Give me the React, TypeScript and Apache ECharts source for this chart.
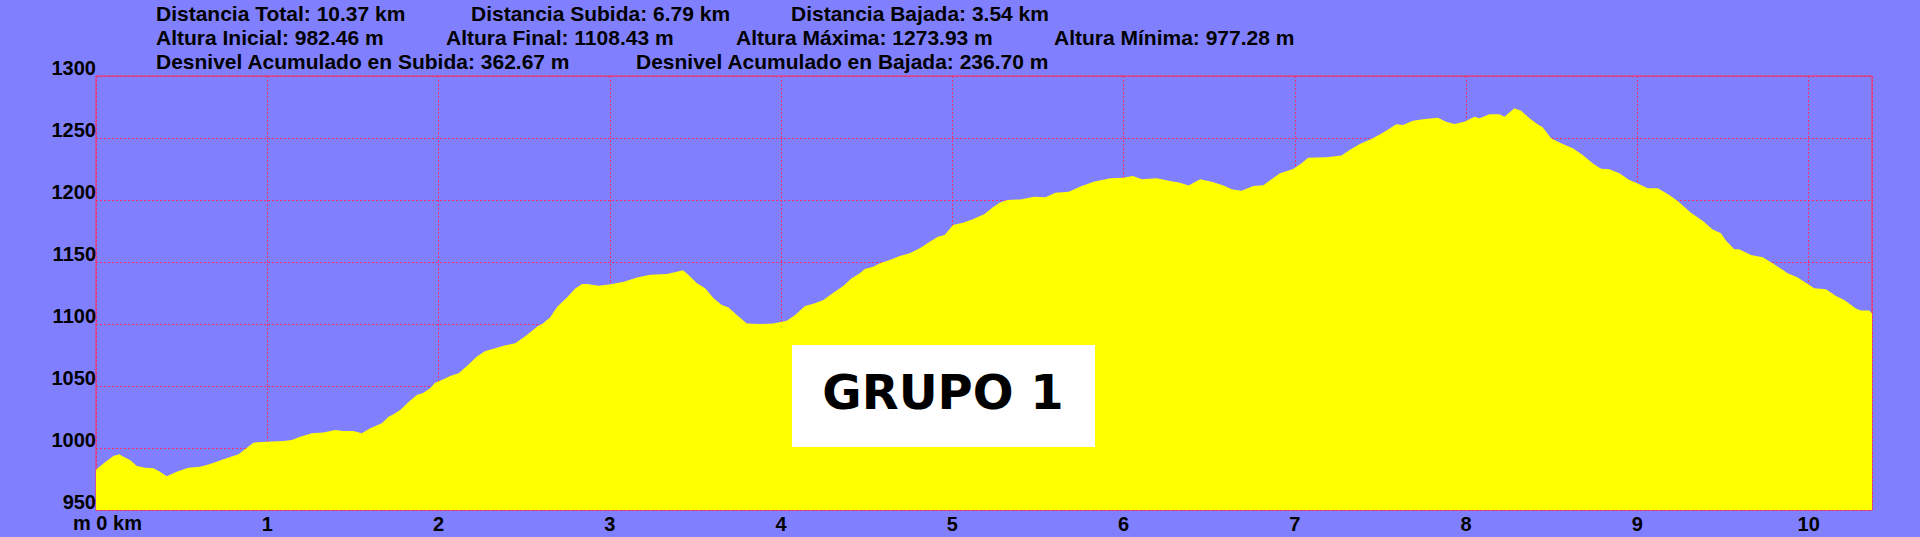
import React, { useEffect, useRef } from "react";
import * as echarts from "echarts";

// Distance along the route (km)
const distanceKm = [
  0, 0.043, 0.101, 0.136, 0.16, 0.199, 0.238, 0.286, 0.335, 0.374, 0.413, 0.471, 0.539, 0.608, 0.666, 0.744, 0.832,
  0.87, 0.919, 0.997, 1.094, 1.143, 1.192, 1.26, 1.328, 1.396, 1.445, 1.503, 1.552, 1.601, 1.669, 1.708, 1.737,
  1.776, 1.825, 1.873, 1.912, 1.951, 1.98, 2.029, 2.068, 2.117, 2.166, 2.224, 2.273, 2.321, 2.39, 2.448, 2.516,
  2.575, 2.613, 2.652, 2.693, 2.751, 2.8, 2.839, 2.868, 2.936, 3.004, 3.082, 3.159, 3.237, 3.334, 3.392, 3.427,
  3.46, 3.509, 3.557, 3.606, 3.654, 3.693, 3.742, 3.8, 3.878, 3.955, 4.033, 4.082, 4.14, 4.198, 4.247, 4.305,
  4.363, 4.412, 4.46, 4.489, 4.538, 4.577, 4.635, 4.693, 4.751, 4.81, 4.868, 4.916, 4.955, 5.004, 5.062, 5.12,
  5.188, 5.237, 5.276, 5.32, 5.398, 5.476, 5.544, 5.602, 5.68, 5.748, 5.825, 5.922, 6.0, 6.054, 6.107, 6.194,
  6.272, 6.33, 6.379, 6.447, 6.515, 6.583, 6.631, 6.689, 6.757, 6.816, 6.864, 6.913, 6.99, 7.039, 7.078, 7.184,
  7.272, 7.32, 7.379, 7.456, 7.524, 7.592, 7.631, 7.689, 7.748, 7.835, 7.883, 7.932, 7.99, 8.049, 8.078, 8.136,
  8.195, 8.224, 8.282, 8.321, 8.37, 8.409, 8.447, 8.496, 8.564, 8.623, 8.681, 8.739, 8.788, 8.837, 8.895, 8.953,
  9.002, 9.06, 9.119, 9.187, 9.235, 9.313, 9.381, 9.44, 9.488, 9.518, 9.566, 9.595, 9.663, 9.732, 9.79, 9.878,
  9.936, 10.004, 10.033, 10.101, 10.16, 10.208, 10.276, 10.305, 10.354, 10.37,
];

// Elevation (m)
const elevationM = [
  982.5, 987.6, 993.5, 994.9, 993.0, 990.3, 985.5, 984.1, 983.6, 980.9, 977.3, 980.9, 984.1, 984.9, 987.1, 990.9, 994.9,
  998.9, 1004.3, 1005.1, 1005.6, 1006.5, 1009.1, 1011.8, 1012.4, 1014.5, 1013.7, 1013.7, 1011.8, 1015.9, 1019.9, 1025.3, 1027.2,
  1030.6, 1037.1, 1042.7, 1044.6, 1048.1, 1052.7, 1055.4, 1058.1, 1060.2, 1066.1, 1073.7, 1078.2, 1080.1, 1082.8, 1084.4, 1091.1,
  1097.8, 1100.8, 1105.4, 1114.0, 1121.5, 1128.8, 1132.3, 1132.3, 1130.9, 1132.0, 1134.1, 1137.6, 1139.8, 1140.3, 1142.2, 1143.3,
  1139.5, 1132.8, 1128.8, 1120.7, 1115.3, 1113.4, 1107.3, 1100.5, 1100.0, 1100.5, 1102.7, 1107.3, 1114.5, 1116.7, 1119.4, 1125.3,
  1130.6, 1136.8, 1140.9, 1144.4, 1146.2, 1148.9, 1151.6, 1154.8, 1157.0, 1161.0, 1166.4, 1170.4, 1171.8, 1179.8, 1181.7, 1184.4,
  1188.7, 1194.1, 1197.8, 1200.0, 1200.5, 1202.7, 1202.2, 1205.9, 1206.7, 1210.8, 1214.8, 1217.5, 1218.0, 1219.4, 1216.7, 1217.5,
  1215.3, 1214.0, 1211.6, 1216.7, 1214.8, 1211.6, 1208.6, 1207.5, 1211.3, 1211.8, 1216.7, 1221.5, 1225.0, 1229.6, 1234.1, 1234.4,
  1235.8, 1240.3, 1245.2, 1249.7, 1255.1, 1261.0, 1260.5, 1264.0, 1265.1, 1266.4, 1263.2, 1261.3, 1263.2, 1267.2, 1265.9, 1269.1,
  1269.1, 1267.2, 1273.9, 1272.0, 1265.9, 1261.8, 1258.6, 1249.7, 1245.2, 1241.7, 1236.3, 1229.6, 1225.3, 1224.7, 1221.5, 1216.1,
  1213.4, 1209.4, 1209.4, 1204.0, 1199.2, 1189.8, 1183.3, 1176.3, 1173.1, 1167.2, 1160.2, 1160.2, 1155.6, 1153.8, 1148.9, 1140.9,
  1137.6, 1131.5, 1128.8, 1128.0, 1122.6, 1119.4, 1112.6, 1110.8, 1110.8, 1108.4,
];

// Summary lines in the header: [text, left x, row]
const headerTexts: [string, number, number][] = [
  ["Distancia Total: 10.37 km", 156, 0],
  ["Distancia Subida: 6.79 km", 471, 0],
  ["Distancia Bajada: 3.54 km", 791, 0],
  ["Altura Inicial: 982.46 m", 156, 1],
  ["Altura Final: 1108.43 m", 446, 1],
  ["Altura Máxima: 1273.93 m", 736, 1],
  ["Altura Mínima: 977.28 m", 1054, 1],
  ["Desnivel Acumulado en Subida: 362.67 m", 156, 2],
  ["Desnivel Acumulado en Bajada: 236.70 m", 636, 2],
];

const groupLabel = "GRUPO 1";
const yMin = 950;
const yMax = 1300;
const yStep = 50;
const xMax = 10.37;

const GRID_COLOR = "#f0306a";
const BORDER_COLOR = "#ff3050";
const FONT = "'Liberation Sans', Arial, sans-serif";

export default function App() {
  const ref = useRef<HTMLDivElement>(null);

  useEffect(() => {
    document.body.style.margin = "0";
    if (!ref.current) return;
    const chart = echarts.init(ref.current, undefined, { renderer: "svg" });

    const seriesData = distanceKm.map((d, i) => [d, elevationM[i]]);

    const headerGraphics = headerTexts.map(([t, x, row]) => ({
      type: "text",
      left: x,
      top: 2.5 + row * 24.3,
      z: 10,
      style: {
        text: t,
        font: `bold 21px ${FONT}`,
        fill: "#000",
      },
    }));

    chart.setOption({
      animation: false,
      backgroundColor: "#8080ff",
      grid: {
        left: 96,
        right: 48,
        top: 76,
        bottom: 27,
        show: true,
        borderColor: BORDER_COLOR,
        borderWidth: 1,
        backgroundColor: "transparent",
      },
      xAxis: {
        type: "value",
        min: 0,
        max: xMax,
        interval: 1,
        axisLine: { show: false },
        axisTick: { show: false },
        splitLine: {
          show: true,
          lineStyle: { color: GRID_COLOR, type: [2, 2], width: 1 },
        },
        axisLabel: {
          showMaxLabel: false,
          margin: 4,
          fontSize: 20,
          fontWeight: "bold",
          fontFamily: FONT,
          color: "#000",
          formatter: (v: number) => (v === 0 ? "" : String(v)),
        },
      },
      yAxis: {
        type: "value",
        min: yMin,
        max: yMax,
        interval: yStep,
        axisLine: { show: false },
        axisTick: { show: false },
        splitLine: {
          show: true,
          lineStyle: { color: GRID_COLOR, type: [2, 2], width: 1 },
        },
        axisLabel: {
          margin: 0,
          fontSize: 20,
          fontWeight: "bold",
          fontFamily: FONT,
          color: "#000",
          verticalAlign: "bottom",
          lineHeight: 16,
          formatter: (v: number) => String(v),
        },
      },
      series: [
        {
          type: "line",
          data: seriesData,
          symbol: "none",
          lineStyle: { width: 0 },
          areaStyle: { color: "#ffff00", opacity: 1, origin: "start" },
          z: 1,
        },
      ],
      graphic: [
        ...headerGraphics,
        {
          type: "text",
          left: 73,
          top: 513,
          z: 10,
          style: { text: "m 0 km", font: `bold 20px ${FONT}`, fill: "#000" },
        },
        {
          type: "rect",
          left: 792,
          top: 345,
          z: 20,
          shape: { width: 303, height: 102 },
          style: { fill: "#ffffff" },
        },
        {
          type: "text",
          x: 943,
          y: 392,
          z: 21,
          style: {
            text: groupLabel,
            font: "bold 48px 'DejaVu Sans', Verdana, sans-serif",
            fill: "#000",
            align: "center",
            verticalAlign: "middle",
          },
        },
      ],
    });

    return () => chart.dispose();
  }, []);

  return <div ref={ref} style={{ width: 1920, height: 537 }} />;
}
